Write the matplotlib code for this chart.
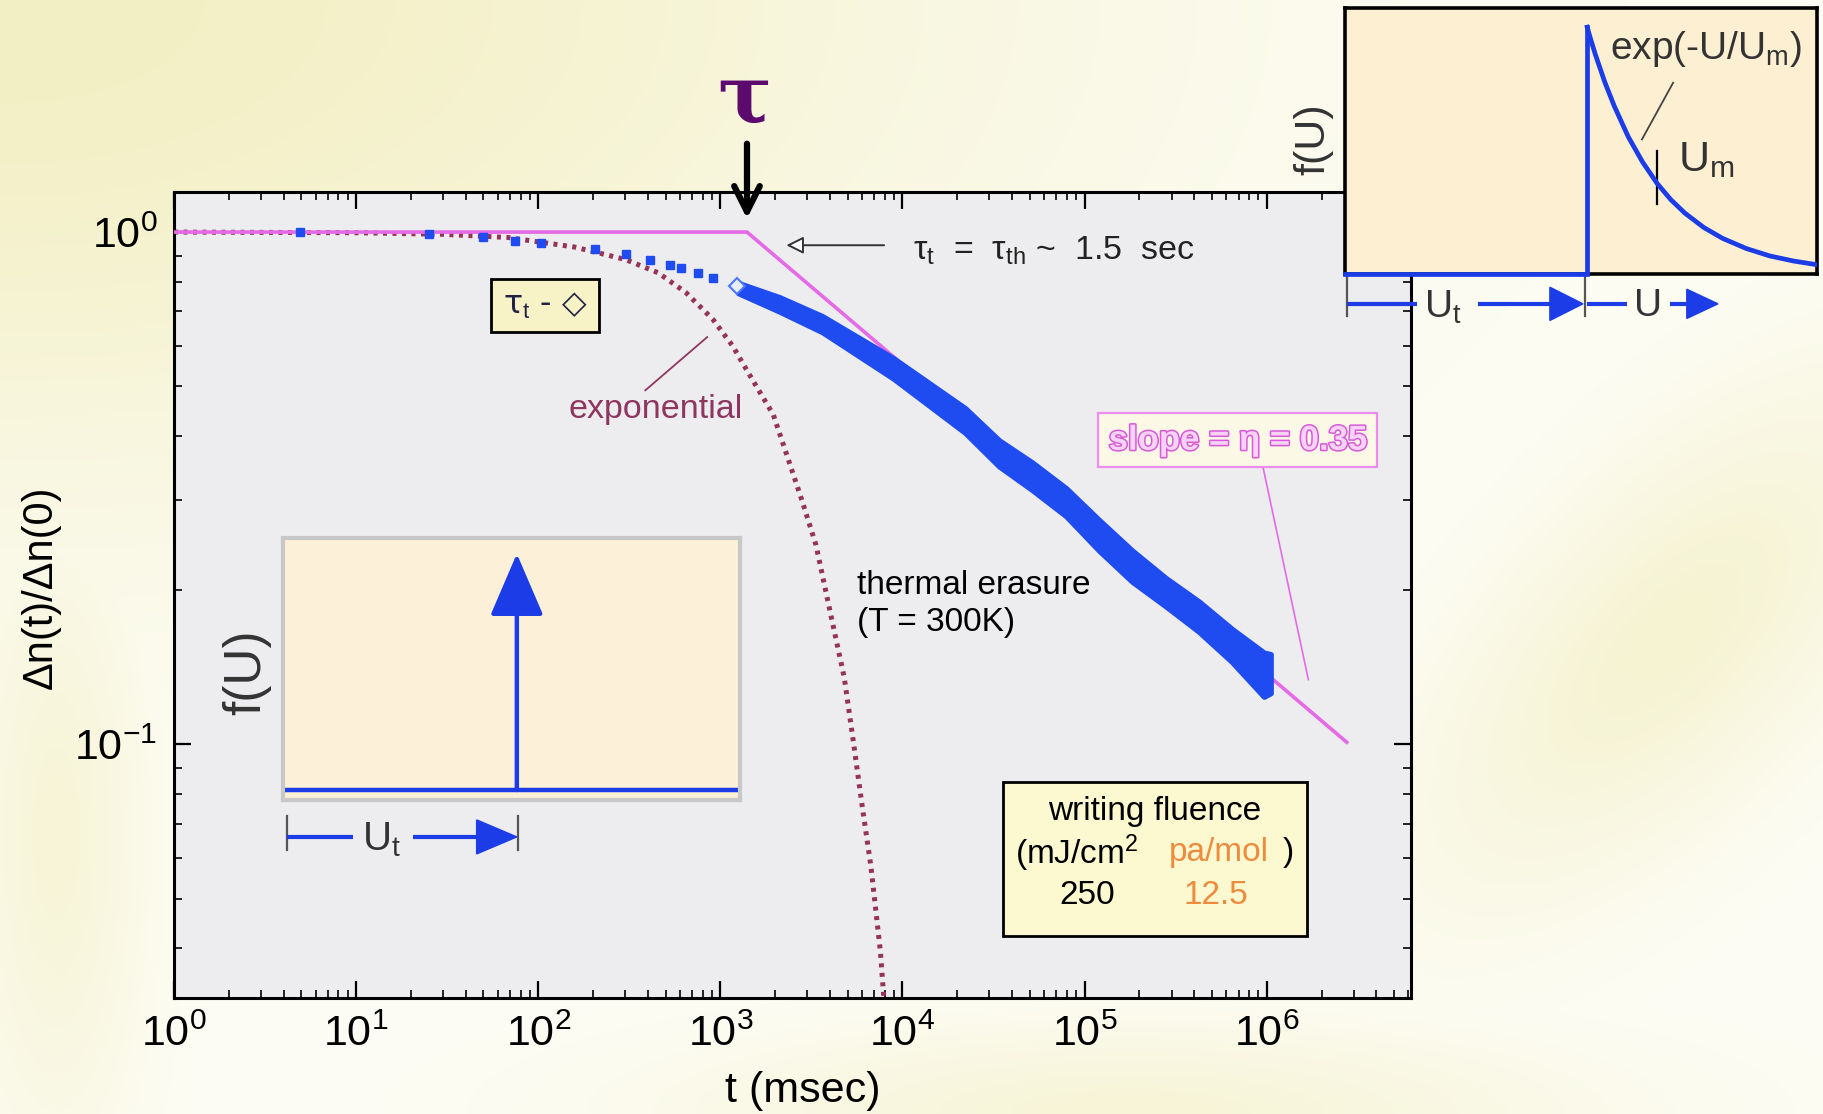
import numpy as np
import matplotlib
matplotlib.use("Agg")
import matplotlib.pyplot as plt
from matplotlib.patches import Rectangle, Polygon
import matplotlib.patheffects as pe
from matplotlib.ticker import FixedLocator, FixedFormatter, LogLocator, NullFormatter

plt.rcParams["font.family"] = ["Liberation Sans", "DejaVu Sans"]
plt.rcParams["mathtext.fontset"] = "custom"
plt.rcParams["mathtext.rm"] = "Liberation Sans"
plt.rcParams["mathtext.it"] = "Liberation Sans:italic"
plt.rcParams["mathtext.bf"] = "Liberation Sans:bold"

# ---------------- data ----------------
# sparse early-time measurements
early_t = [4.9, 25, 50, 75, 103, 205, 302, 410, 527, 611, 750, 908]
early_v = [1.0, 0.99, 0.979, 0.959, 0.954, 0.925, 0.906, 0.884, 0.864, 0.852, 0.833, 0.815]

# onset point (open diamond)
onset_t = [1240]
onset_v = [0.784]

# dense decay band: time, lower and upper envelope
band_t = [1257, 2110, 3631, 8913, 22080, 33960, 51520, 79250, 120200,
          182300, 279900, 424600, 644000, 966000, 1050000]
band_lo = [0.760, 0.700, 0.638, 0.518, 0.406, 0.349, 0.314, 0.279, 0.239,
           0.208, 0.186, 0.166, 0.145, 0.124, 0.126]
band_hi = [0.795, 0.746, 0.685, 0.567, 0.453, 0.392, 0.355, 0.316, 0.274,
           0.239, 0.211, 0.190, 0.168, 0.151, 0.150]

# single exponential reference curve
exp_t = [1, 10, 30, 68, 158, 301, 455, 647, 908, 1166, 1500, 1953, 2330,
         2800, 3350, 4000, 4790, 5400, 5970, 6700, 7560, 7900]
exp_v = [1.0, 0.997, 0.99, 0.976, 0.935, 0.884, 0.833, 0.762, 0.676, 0.600,
         0.515, 0.440, 0.365, 0.300, 0.245, 0.182, 0.135, 0.100, 0.0770,
         0.058, 0.0395, 0.032]

# plateau + power-law guide
power_t = [1, 1400, 2.75e6]
power_v = [1.0, 1.0, 0.101]
tau_mark_t = 1400

x_ticks = [1e0, 1e1, 1e2, 1e3, 1e4, 1e5, 1e6]
x_tick_labels = ["10$^{0}$", "10$^{1}$", "10$^{2}$", "10$^{3}$",
                 "10$^{4}$", "10$^{5}$", "10$^{6}$"]
y_ticks = [0.1, 1.0]
y_tick_labels = ["10$^{\u22121}$", "10$^{0}$"]

# trap-energy distributions (schematic insets)
delta_U = 0.512
delta_height = 0.94
step_U = [0.0, 0.513, 0.513]
step_f = [0.0, 0.0, 0.928]
decay_U = [0.513, 0.52, 0.53, 0.55, 0.57, 0.60, 0.63, 0.661, 0.69, 0.72,
           0.76, 0.80, 0.85, 0.90, 0.95, 1.0]
decay_f = [0.928, 0.885, 0.827, 0.723, 0.633, 0.516, 0.422, 0.341, 0.280,
           0.229, 0.175, 0.134, 0.096, 0.068, 0.049, 0.035]
Um_pos = 0.661

BLUE = "#1F4CF0"
IBLUE = "#1B3CE6"
MAGENTA = "#E56AE6"
MAROON = "#963358"
ORANGE = "#F08A3C"

fig = plt.figure(figsize=(18.24, 11.14), dpi=100)

# ---------------- decorative backdrop ----------------
bg = fig.add_axes([0, 0, 1, 1], zorder=-10)
bg.axis("off")
yy, xx = np.mgrid[0:1:300j, 0:1:490j]
w1 = np.exp(-(((xx - 0.0) / 0.55) ** 2 + ((yy - 0.0) / 0.45) ** 2))
r2 = ((xx - 0.93) * 0.8 + (yy - 0.55) * 0.6)
w2 = 0.7 * np.exp(-(r2 / 0.12) ** 2) * np.exp(-(((xx - 0.92) / 0.12) ** 2 + ((yy - 0.6) / 0.35) ** 2) * 0.6)
w3 = 0.6 * np.exp(-(((xx - 0.62) / 0.25) ** 2 + ((yy - 1.0) / 0.08) ** 2))
w4 = 0.6 * np.exp(-(((xx - 0.03) / 0.05) ** 2 + ((yy - 0.75) / 0.3) ** 2))
w = np.clip(np.maximum.reduce([w1, w2, w3, w4]), 0, 1)
c_light = np.array([253, 253, 246]) / 255
c_yel = np.array([243, 239, 196]) / 255
img = c_light[None, None, :] * (1 - w[..., None]) + c_yel[None, None, :] * w[..., None]
bg.imshow(img, extent=[0, 1, 0, 1], aspect="auto", interpolation="bilinear")
bg.set_xlim(0, 1)
bg.set_ylim(0, 1)

# ---------------- main axes ----------------
ax = fig.add_axes([0.0954, 0.1041, 0.6782, 0.7235], zorder=1)
ax.set_facecolor("#EDEDEF")
ax.set_xscale("log")
ax.set_yscale("log")
ax.set_xlim(1, 6.2e6)
ax.set_ylim(0.032, 1.197)

ax.plot(exp_t, exp_v, color=MAROON, lw=3.6, ls=(0, (0.8, 1.1)), zorder=2)
ax.plot(power_t, power_v, color=MAGENTA, lw=2.6, zorder=3)
ax.fill_between(band_t, band_lo, band_hi, color=BLUE, lw=4, edgecolor=BLUE,
                joinstyle="round", zorder=4)
ax.plot(early_t, early_v, ls="none", marker="s", ms=5.5, color=BLUE, zorder=4)
ax.plot(onset_t, onset_v, ls="none", marker="D", ms=8, mfc="#E8ECFF", mec="#4C78FF", mew=1.5, zorder=5)

for s in ax.spines.values():
    s.set_linewidth(2.2)
    s.set_color("black")

ax.xaxis.set_major_locator(FixedLocator(x_ticks))
ax.xaxis.set_major_formatter(FixedFormatter(x_tick_labels))
ax.xaxis.set_minor_locator(LogLocator(base=10, subs=np.arange(2, 10), numticks=20))
ax.xaxis.set_minor_formatter(NullFormatter())
ax.yaxis.set_major_locator(FixedLocator(y_ticks))
ax.yaxis.set_major_formatter(FixedFormatter(y_tick_labels))
ax.yaxis.set_minor_locator(LogLocator(base=10, subs=np.arange(2, 10), numticks=20))
ax.yaxis.set_minor_formatter(NullFormatter())
ax.tick_params(which="both", direction="in", top=True, right=True, colors="black")
ax.tick_params(which="major", length=12, width=1.6, labelsize=31, pad=12)
ax.tick_params(which="minor", length=6, width=1.2)

ax.text(-0.1075, 0.51, "\u0394n(t)/\u0394n(0)", transform=ax.transAxes, rotation=90,
        ha="center", va="center", fontsize=30)
ax.text(0.508, -0.115, "t (msec)", transform=ax.transAxes, ha="center", va="center", fontsize=31)

# tau marker above the plateau break
ax.text(0.461, 1.115, "\u03c4", transform=ax.transAxes, ha="center", va="center",
        fontsize=58, fontweight="bold", family="DejaVu Serif", color="#5C0A6E", clip_on=False)
ax.annotate("", xy=(tau_mark_t, 0.967), xytext=(tau_mark_t, 1.06),
            xycoords=("data", "axes fraction"), textcoords=("data", "axes fraction"),
            arrowprops=dict(arrowstyle="->", lw=4.5, color="black", mutation_scale=46,
                            shrinkA=0, shrinkB=0), annotation_clip=False)

# annotations
ax.annotate("", xy=(0.495, 0.934), xytext=(0.574, 0.934), xycoords="axes fraction",
            arrowprops=dict(arrowstyle="-|>", lw=1.4, fc="white", ec="#333333",
                            mutation_scale=26, shrinkA=0, shrinkB=0))
ax.text(0.597, 0.927, "\u03c4$_\\mathrm{t}$  =  \u03c4$_\\mathrm{th}$ ~  1.5  sec", transform=ax.transAxes,
        ha="left", va="center", fontsize=24.5, color="#222222")

ax.text(0.300, 0.859, "\u03c4$_\\mathrm{t}$ - \u25c7", transform=ax.transAxes, ha="center", va="center",
        fontsize=23, color="#222244", family=["DejaVu Sans"],
        bbox=dict(boxstyle="square,pad=0.35", fc="#F7F3C6", ec="black", lw=2))

ax.text(0.389, 0.730, "exponential", transform=ax.transAxes, ha="center", va="center",
        fontsize=24.5, color="#8E3560")
ax.plot([0.381, 0.431], [0.754, 0.820], transform=ax.transAxes, color="#8E3560", lw=1.3)

ax.text(0.860, 0.692, "slope = \u03b7 = 0.35", transform=ax.transAxes, ha="center", va="center",
        fontsize=25, fontweight="bold", color="#F6D2F6",
        path_effects=[pe.withStroke(linewidth=2.2, foreground="#D85AD8")],
        bbox=dict(boxstyle="square,pad=0.3", fc="#FBF9E6", ec="#EE8CEE", lw=1.6), zorder=6)
ax.plot([0.880, 0.917], [0.661, 0.395], transform=ax.transAxes, color=MAGENTA, lw=1.2)

ax.text(0.552, 0.512, "thermal erasure", transform=ax.transAxes, ha="left", va="center", fontsize=24)
ax.text(0.552, 0.466, "(T = 300K)", transform=ax.transAxes, ha="left", va="center", fontsize=24)

# fluence box
ax.add_patch(Rectangle((0.670, 0.077), 0.246, 0.191, transform=ax.transAxes,
                       fc="#FCF9D0", ec="black", lw=2, zorder=6))
ax.text(0.793, 0.231, "writing fluence", transform=ax.transAxes, ha="center", va="center",
        fontsize=24, zorder=7)
ax.text(0.680, 0.180, "(mJ/cm$^{2}$", transform=ax.transAxes, ha="left", va="center",
        fontsize=24, zorder=7)
ax.text(0.804, 0.180, "pa/mol", transform=ax.transAxes, ha="left", va="center",
        fontsize=24, color=ORANGE, zorder=7)
ax.text(0.896, 0.180, ")", transform=ax.transAxes, ha="left", va="center", fontsize=24, zorder=7)
ax.text(0.738, 0.127, "250", transform=ax.transAxes, ha="center", va="center", fontsize=24, zorder=7)
ax.text(0.842, 0.127, "12.5", transform=ax.transAxes, ha="center", va="center", fontsize=24,
        color=ORANGE, zorder=7)


def draw_tri(axx, x0, x1, y, h, color):
    axx.add_patch(Polygon([[x0, y - h / 2], [x0, y + h / 2], [x1, y]], closed=True,
                          transform=axx.transAxes, fc=color, ec=color, clip_on=False))


def hline(axx, x0, x1, y, color, lw=3):
    axx.plot([x0, x1], [y, y], transform=axx.transAxes, color=color, lw=lw, clip_on=False,
             solid_capstyle="butt")


def vtick(axx, x, y0, y1):
    axx.plot([x, x], [y0, y1], transform=axx.transAxes, color="#555555", lw=1.6, clip_on=False)


# ---------------- left inset: single trap energy ----------------
axl = fig.add_axes([0.1551, 0.2819, 0.2505, 0.2352], zorder=3)
axl.set_facecolor("#FDF0D8")
axl.set_xlim(0, 1)
axl.set_ylim(0, 1)
axl.set_xticks([])
axl.set_yticks([])
for s in axl.spines.values():
    s.set_color("#C8C8C8")
    s.set_linewidth(3.0)
axl.plot([0.005, 0.995], [0.038, 0.038], color=IBLUE, lw=3.2)
axl.annotate("", xy=(delta_U, delta_height), xytext=(delta_U, 0.038),
             arrowprops=dict(arrowstyle="-|>,head_length=1.4,head_width=0.6", lw=3.2,
                             color=IBLUE, mutation_scale=28, shrinkA=0, shrinkB=0))
axl.text(-0.079, 0.489, "f(U)", transform=axl.transAxes, rotation=90, ha="center", va="center",
         fontsize=37, color="#333333")
yb = -0.141
vtick(axl, 0.008, -0.06, -0.19)
vtick(axl, 0.514, -0.06, -0.19)
hline(axl, 0.008, 0.153, yb, IBLUE)
axl.text(0.216, yb - 0.01, "U$_\\mathrm{t}$", transform=axl.transAxes, ha="center", va="center",
         fontsize=29, color="#333333")
hline(axl, 0.285, 0.43, yb, IBLUE)
draw_tri(axl, 0.424, 0.512, yb, 0.13, IBLUE)

# ---------------- right inset: exponential trap distribution ----------------
axr = fig.add_axes([0.7374, 0.7540, 0.2588, 0.2388], zorder=3)
axr.set_facecolor("#FCEFD2")
axr.set_xlim(0, 1)
axr.set_ylim(0, 1)
axr.set_xticks([])
axr.set_yticks([])
for s in axr.spines.values():
    s.set_color("black")
    s.set_linewidth(2.6)
axr.plot(step_U, step_f, color=IBLUE, lw=3.4, clip_on=False, solid_joinstyle="miter", zorder=5)
axr.plot(decay_U, decay_f, color=IBLUE, lw=3.4, zorder=5)
axr.plot([Um_pos, Um_pos], [0.262, 0.461], color="black", lw=1.6)
axr.plot([0.695, 0.629], [0.719, 0.506], color="#444444", lw=1.3)
axr.text(0.765, 0.846, "exp(-U/U$_\\mathrm{m}$)", transform=axr.transAxes, ha="center", va="center",
         fontsize=28, color="#333333")
axr.text(0.705, 0.43, "U$_\\mathrm{m}$", transform=axr.transAxes, ha="left", va="center",
         fontsize=31, color="#333333")
axr.text(-0.066, 0.506, "f(U)", transform=axr.transAxes, rotation=90, ha="center", va="center",
         fontsize=31, color="#333333")
yb = -0.112
vtick(axr, 0.004, -0.007, -0.157)
vtick(axr, 0.508, -0.007, -0.157)
hline(axr, 0.004, 0.152, yb, IBLUE)
axr.text(0.208, yb - 0.015, "U$_\\mathrm{t}$", transform=axr.transAxes, ha="center", va="center",
         fontsize=28, color="#333333")
hline(axr, 0.282, 0.44, yb, IBLUE)
draw_tri(axr, 0.434, 0.504, yb, 0.125, IBLUE)
hline(axr, 0.513, 0.597, yb, IBLUE)
axr.text(0.642, yb - 0.01, "U", transform=axr.transAxes, ha="center", va="center",
         fontsize=28, color="#333333")
hline(axr, 0.688, 0.73, yb, IBLUE)
draw_tri(axr, 0.724, 0.79, yb, 0.11, IBLUE)

fig.savefig("out.png", dpi=100, facecolor=fig.get_facecolor())
